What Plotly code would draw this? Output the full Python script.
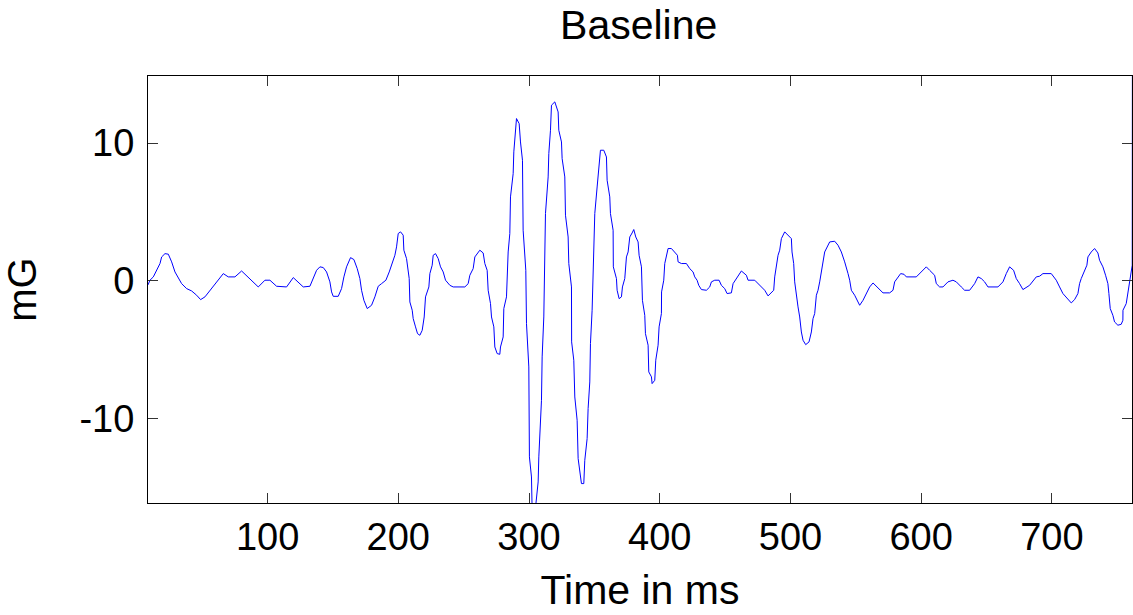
import plotly.graph_objects as go

# Time (ms) and field (mG)
time_ms = [
    8.5, 10.02, 12.57, 15.12, 17.67, 18.94, 21.49, 24.04, 26.59, 29.14, 31.68, 34.23, 38.06, 41.88,
    45.70, 48.76, 52.08, 55.90, 61.00, 66.10, 69.92, 75.02, 80.11, 86.49, 92.86, 97.96, 101.78,
    106.88, 114.53, 119.62, 123.45, 127.27, 132.37, 134.92, 137.47, 140.02, 142.57, 145.11, 147.66,
    148.94, 150.21, 154.03, 156.58, 158.37, 160.41, 163.47, 166.02, 168.57, 170.60, 171.88, 173.67,
    176.22, 179.53, 182.08, 184.63, 187.17, 190.49, 193.04, 194.82, 197.37, 198.65,
    199.92, 201.70, 203.74, 204.25, 206.29, 208.33, 208.84, 210.63, 211.39, 213.17, 214.70, 216.49,
    218.27, 219.80, 220.82, 223.37, 224.14, 225.92, 226.68, 228.47, 230.51, 232.29, 234.33, 236.12,
    239.43, 241.98, 250.90, 253.45, 254.72, 257.27, 258.55, 262.37, 264.92, 266.19, 267.98, 268.74,
    270.53, 271.29, 273.08, 273.84, 275.62, 277.66, 278.17, 280.21, 280.72, 282.76, 283.27, 284.04,
    285.31, 285.82, 287.86, 288.37, 290.41, 292.45, 293.47, 294.99, 295.50, 297.54, 298.06, 299.84,
    300.3, 301.88, 302.39, 304.94, 306.98, 307.49, 309.53, 310.04, 311.31, 312.08, 312.59, 314.63,
    315.14, 316.41, 317.17, 319.72, 322.27, 322.78, 324.82, 325.33, 327.37, 327.88, 329.92, 330.43,
    332.47, 332.6, 334.25, 335.02, 336.80, 337.57, 339.35, 340.11, 341.90, 342.66, 344.45, 345.21,
    346.49, 347.00, 348.27, 349.55, 350.31, 352.10, 352.86, 354.64, 357.19, 359.23, 359.74, 361.78,
    362.29, 364.33, 364.5, 366.88, 367.39, 368.92, 370.70, 371.47, 373.25, 374.53, 375.80, 377.08,
    378.86, 380.14, 381.67, 383.45, 384.21, 386.00, 386.76, 388.55, 389.06, 391.10, 391.61, 393.65,
    394.16, 396.19, 396.96, 398.74, 399.51, 401.29, 401.4, 403.08, 403.84, 405.12, 406.39, 408.94,
    411.49, 413.53, 414.04, 416.59, 420.41, 422.96, 425.51, 426.78, 428.57, 429.84, 431.88, 435.70,
    438.25, 439.53, 442.08, 445.39, 447.17, 449.72, 451.51, 454.82, 456.10, 458.65, 462.47, 466.29,
    467.57, 472.66, 476.49, 480.31, 482.86, 485.41, 487.19, 487.96, 489.23, 490.51, 491.78, 493.06,
    495.61, 498.15, 500.70, 501.21, 502.49, 503.25, 504.53, 505.80, 507.08, 508.35, 509.63, 511.67,
    514.22, 516.00, 517.27, 518.55, 519.82, 521.10, 522.37, 523.65, 524.92, 526.19, 530.02, 533.84,
    536.39, 538.94, 541.49, 542.76, 544.04, 545.31, 546.59, 549.13, 550.92, 552.96, 555.51, 558.06,
    560.61, 563.16, 565.71, 568.25, 570.80, 575.90, 578.45, 579.72, 582.27, 584.31, 586.86, 588.65,
    596.29, 603.94, 606.49, 610.31, 611.59, 614.14, 616.69, 620.51, 624.33, 626.88, 630.70, 633.25,
    637.08, 640.90, 643.45, 646.00, 648.55, 651.10, 658.74, 662.57, 665.12, 667.67, 670.72, 672.76,
    675.31, 677.86, 682.96, 688.06, 690.61, 693.16, 699.53, 703.35, 705.90, 708.45, 714.82, 717.37,
    719.92, 721.19, 722.47, 725.02, 726.80, 727.57, 730.12, 732.67, 735.21, 736.49, 739.04, 741.08,
    742.86, 743.63, 744.65, 746.68, 747.96, 750.51, 753.06, 754.33, 754.4, 756.88, 758.15, 759.43,
    760.70, 761.47, 761.6,
]
field_mG = [
    -0.30, 0.04, 0.28, 0.76, 1.25, 1.73, 1.97, 1.93, 1.37, 0.64, 0.16, -0.21, -0.57, -0.74,
    -1.05, -1.37, -1.17, -0.69, -0.08, 0.52, 0.28, 0.28, 0.71, 0.16, -0.45, 0.04, 0.04,
    -0.40, -0.45, 0.23, -0.08, -0.45, -0.40, 0.16, 0.76, 1.01, 0.96, 0.64, -0.08,
    -0.81, -1.13, -1.13, -0.57, 0.28, 1.01, 1.68, 1.54, 0.88, 0.16, -0.69, -1.42,
    -2.02, -1.78, -1.17, -0.40, -0.21, 0.04, 0.64, 1.13, 1.85, 2.46,
    3.43, 3.55, 3.31, 2.22, 1.61, 0.16, -1.54, -2.14, -2.75, -3.35, -3.84, -3.96,
    -3.60, -2.63, -1.17, -0.45, 0.52, 1.13, 1.85, 1.97, 1.61, 1.01, 0.64, 0.04,
    -0.33, -0.45, -0.45, -0.21, 0.40, 0.88, 1.73, 2.22, 2.02, 1.25, 0.76, -0.69,
    -1.66, -2.63, -3.35, -4.81, -5.29, -5.34, -4.81, -4.08, -2.02, -1.17, 0.76, 2.09,
    3.43, 6.09, 7.78, 9.36, 11.78, 11.41, 10.08, 8.75, 3.67, 0.76, -3.11, -6.26,
    -12.79, -14.25, -16.70, -16.50, -14.61, -12.79, -8.68, -5.53, -2.63, 0.76, 4.88, 7.54,
    9.24, 10.93, 12.75, 12.99, 12.26, 10.93, 10.08, 8.87, 7.54, 4.76, 3.18, 1.25,
    -0.45, -4.44, -5.77, -8.44, -10.13, -12.91, -14.12, -14.73, -14.73, -13.04, -11.46, -9.28,
    -7.35, -4.56, -2.14, 2.94, 4.88, 6.81, 7.78, 9.48, 9.48, 8.99, 7.30, 6.09,
    4.88, 3.67, 1.01, 0.16, -0.69, -1.30, -1.17, -0.45, 0.16, 1.73, 2.09, 3.18,
    3.47, 3.72, 3.18, 2.82, 1.85, 1.01, -1.42, -2.51, -3.84, -4.68, -6.62, -6.98,
    -7.47, -7.23, -5.77, -4.68, -3.35, -2.38, -0.81, 0.04, 1.25, 1.73, 2.34, 2.34,
    2.02, 1.85, 1.37, 1.25, 1.25, 0.88, 0.64, 0.28, 0.04, -0.33, -0.64, -0.69,
    -0.45, -0.08, 0.04, 0.04, -0.33, -0.57, -0.93, -0.88, -0.21, 0.16, 0.71, 0.40,
    0.04, 0.04, -0.33, -0.69, -1.10, -0.88, -0.69, 0.28, 1.01, 1.85, 2.22, 3.06,
    3.55, 3.31, 3.06, 2.09, 1.25, -0.08, -1.17, -1.90, -2.63, -3.72, -4.32, -4.64,
    -4.44, -3.72, -2.75, -2.38, -1.05, -0.69, -0.08, 0.76, 1.49, 2.09, 2.82, 2.87,
    2.58, 2.09, 1.37, 1.01, 0.52, 0.04, -0.69, -1.05, -1.42, -1.78, -1.42, -0.93,
    -0.45, -0.16, -0.40, -0.64, -0.88, -0.88, -0.69, -0.08, 0.28, 0.52, 0.47, 0.28,
    0.28, 1.01, 0.76, 0.40, -0.21, -0.45, -0.45, -0.08, 0.04, -0.08, -0.45, -0.69,
    -0.69, -0.21, 0.28, 0.16, -0.08, -0.45, -0.45, -0.08, 0.52, 1.01, 0.76, 0.16,
    -0.21, -0.64, -0.33, 0.28, 0.33, 0.52, 0.52, 0.04, -0.45, -0.93, -1.61, -1.37,
    -0.93, -0.21, 0.16, 0.76, 1.13, 1.73, 2.09, 2.34, 2.02, 1.49, 1.01, 0.40,
    -0.21, -0.93, -2.02, -2.51, -2.99, -3.23, -3.16, -2.87, -2.14, -1.66, -0.81, -0.33,
    0.76, 1.13, 14.87,
]

x_tick_vals = [100, 200, 300, 400, 500, 600, 700]
x_tick_text = ["100", "200", "300", "400", "500", "600", "700"]
y_tick_vals = [-10, 0, 10]
y_tick_text = ["-10", "0", "10"]

font_family = "Liberation Sans, Arial, sans-serif"
W, H = 1133, 615

fig = go.Figure()
fig.add_trace(go.Scatter(
    x=time_ms, y=field_mG, mode="lines",
    line=dict(color="#0000FF", width=1),
    showlegend=False, hoverinfo="skip",
))

axis_common = dict(
    showline=True, linecolor="black", linewidth=1, mirror="allticks",
    ticks="inside", ticklen=10, tickwidth=1, tickcolor="#333333",
    showgrid=False, zeroline=False, automargin=False,
    tickfont=dict(family=font_family, size=38, color="black"),
)

fig.update_layout(
    width=W, height=H,
    margin=dict(l=148, r=1, t=76, b=112, autoexpand=False),
    paper_bgcolor="white", plot_bgcolor="white",
    title=dict(text="Baseline", x=638.7 / W, xanchor="center",
               y=1 - 25 / H, yanchor="middle",
               font=dict(family=font_family, size=41, color="black")),
    xaxis=dict(range=[8.5, 761.3], tickvals=x_tick_vals, ticktext=x_tick_text,
               title=dict(text="Time in ms", standoff=18,
                          font=dict(family=font_family, size=41, color="black")),
               **axis_common),
    yaxis=dict(range=[-16.14, 14.87], tickvals=y_tick_vals, ticktext=y_tick_text,
               ticklabelstandoff=5,
               title=dict(text="mG", standoff=33,
                          font=dict(family=font_family, size=40, color="black")),
               **axis_common),
)

fig.write_html(
    "out.html",
    config={"displayModeBar": False},
    post_script="document.body.style.margin='0';document.body.style.overflow='hidden';",
)
